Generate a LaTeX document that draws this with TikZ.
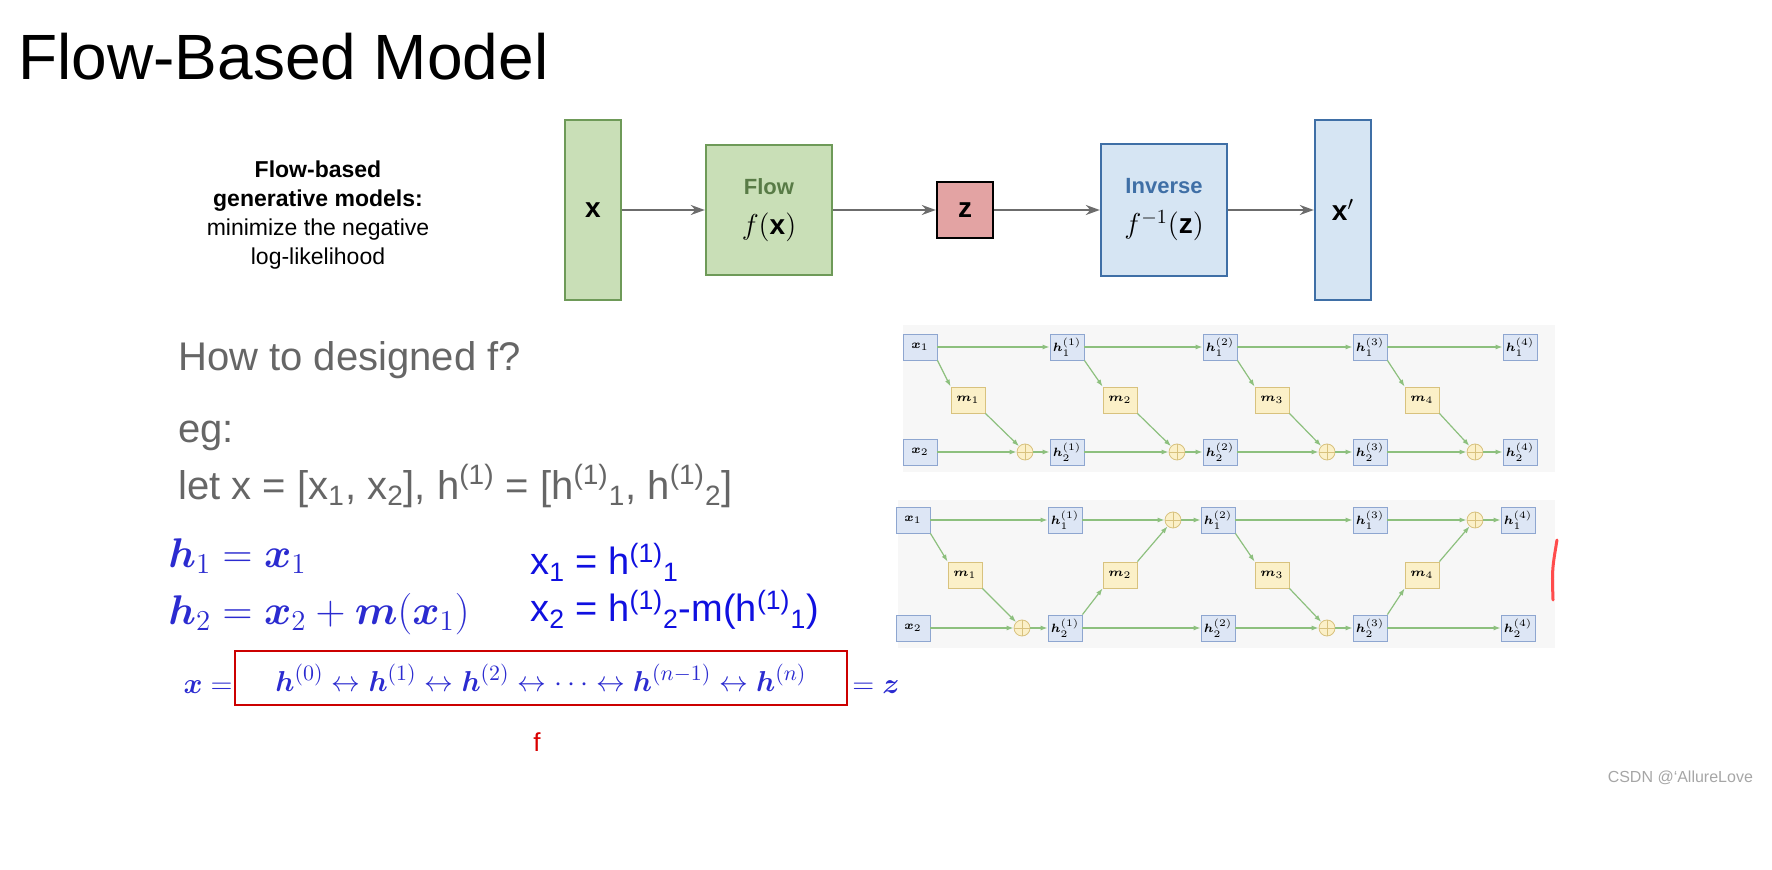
\documentclass[tikz,border=0pt]{standalone}
\usepackage{amsmath,bm}
\usepackage{fontspec}
\setmainfont{Liberation Sans}
\usetikzlibrary{arrows.meta}
\definecolor{gfill}{HTML}{C9DFB7}\definecolor{gdraw}{HTML}{6E9A58}
\definecolor{rfill}{HTML}{E3A3A3}
\definecolor{bfill}{HTML}{D6E5F3}\definecolor{bdraw}{HTML}{3F6FA6}
\definecolor{eqblue}{HTML}{2B2BD0}\definecolor{txtblue}{HTML}{1010E0}
\definecolor{sbfill}{HTML}{DDE6F5}\definecolor{sbdraw}{HTML}{8EA6D0}
\definecolor{yfill}{HTML}{FBF0C8}\definecolor{ydraw}{HTML}{D8C27E}
\definecolor{larr}{HTML}{8DC07E}
\begin{document}
\begin{tikzpicture}[x=0.5pt,y=-0.5pt,
 big/.style={draw,line width=1.2pt,inner sep=0pt},
 arr/.style={-{Stealth[length=7pt,width=5pt]},draw=gray!85!black,line width=0.9pt},
 sb/.style={draw=sbdraw,fill=sbfill,minimum width=17pt,minimum height=13pt,inner sep=0pt,font=\fontsize{6}{6}\selectfont},
 sy/.style={draw=ydraw,fill=yfill,minimum width=17pt,minimum height=13pt,inner sep=0pt,font=\fontsize{6}{6}\selectfont},
 pl/.style={circle,draw=ydraw,fill=yfill,minimum size=8pt,inner sep=0pt,path picture={\draw[ydraw] (path picture bounding box.north)--(path picture bounding box.south) (path picture bounding box.west)--(path picture bounding box.east);}},
 la/.style={-{Latex[length=3.5pt,width=2.5pt]},draw=larr,line width=0.6pt},
 gtxt/.style={text=gray!80!black,font=\fontsize{20}{22}\selectfont,anchor=west,inner sep=0pt}]
\useasboundingbox (0,0) rectangle (1772,870);
\node[anchor=base west,inner sep=0pt,font=\fontsize{32}{33}\selectfont] (title) at (18,80) {Flow-Based Model};
% top panel
\node[align=center,font=\fontsize{11.5}{14.5}\selectfont] (desc) at (318,215) {\textbf{Flow-based}\\\textbf{generative models:}\\minimize the negative\\log-likelihood};
\node[big,draw=gdraw,fill=gfill,minimum width=28pt,minimum height=90pt,font=\fontsize{14}{14}\selectfont] (x) at (593,210) {$\mathbf{x}$};
\node[big,draw=gdraw,fill=gfill,minimum width=63pt,minimum height=65pt,align=center,font=\fontsize{14}{18}\selectfont] (flow) at (769,210) {\textcolor{gdraw!80!black}{\textbf{\fontsize{11}{12}\selectfont Flow}}\\[2pt]$f(\mathbf{x})$};
\node[big,draw=black,fill=rfill,minimum width=28pt,minimum height=28pt,font=\fontsize{14}{14}\selectfont] (z) at (965,210) {$\mathbf{z}$};
\node[big,draw=bdraw,fill=bfill,minimum width=63pt,minimum height=66pt,align=center,font=\fontsize{14}{18}\selectfont] (inv) at (1164,210) {\textcolor{bdraw}{\textbf{\fontsize{11}{12}\selectfont Inverse}}\\[2pt]$f^{-1}(\mathbf{z})$};
\node[big,draw=bdraw,fill=bfill,minimum width=28pt,minimum height=90pt,font=\fontsize{14}{14}\selectfont] (xp) at (1343,210) {$\mathbf{x}'$};
\draw[arr] (x) -- (flow); \draw[arr] (flow) -- (z); \draw[arr] (z) -- (inv); \draw[arr] (inv) -- (xp);
% left text
\node[gtxt] (q) at (178,360) {How to designed f?};
\node[gtxt] (eg) at (178,436) {eg:};
\node[gtxt] (let) at (178,486) {let x = [x$_{\text{1}}$, x$_{\text{2}}$], h$^{\text{(1)}}$ = [h$^{\text{(1)}}$$_{\text{1}}$, h$^{\text{(1)}}$$_{\text{2}}$]};
\node[anchor=west,inner sep=0pt,text=eqblue,font=\fontsize{20}{20}\selectfont] (e1) at (168,556) {$\bm{h}_1 = \bm{x}_1$};
\node[anchor=west,inner sep=0pt,text=eqblue,font=\fontsize{20}{20}\selectfont] (e2) at (168,614) {$\bm{h}_2 = \bm{x}_2 + \bm{m}(\bm{x}_1)$};
\node[anchor=west,inner sep=0pt,text=txtblue,font=\fontsize{19}{19}\selectfont] (r1) at (530,562) {x$_{\text{1}}$ = h$^{\text{(1)}}$$_{\text{1}}$};
\node[anchor=west,inner sep=0pt,text=txtblue,font=\fontsize{19}{19}\selectfont] (r2) at (530,610) {x$_{\text{2}}$ = h$^{\text{(1)}}$$_{\text{2}}$-m(h$^{\text{(1)}}$$_{\text{1}}$)};
\node[anchor=east,inner sep=0pt,text=eqblue,font=\fontsize{15}{15}\selectfont] (xeq) at (233,687) {$\bm{x} =$};
\node[draw=red!80!black,line width=1.2pt,minimum width=306pt,minimum height=27pt,inner sep=0pt,text=eqblue,font=\fontsize{15.5}{15}\selectfont] (chain) at (541,678) {$\bm{h}^{(0)} \leftrightarrow \bm{h}^{(1)} \leftrightarrow \bm{h}^{(2)} \leftrightarrow \cdots \leftrightarrow \bm{h}^{(n-1)} \leftrightarrow \bm{h}^{(n)}$};
\node[anchor=west,inner sep=0pt,text=eqblue,font=\fontsize{15}{15}\selectfont] (zeq) at (852,687) {$= \bm{z}$};
\node[text=red!85!black,font=\fontsize{13}{13}\selectfont] (f) at (537,742) {f};
% network 1
\fill[black!3] (903,325) rectangle (1555,472);
\node[sb] (a0) at (920,347) {$\bm{x}_1$};
\node[sb] (b0) at (920,452) {$\bm{x}_2$};
\foreach \i/\cx/\mx/\px in {1/1067/968/1025,2/1220/1120/1177,3/1370/1272/1327,4/1520/1422/1475}{
 \node[sb] (a\i) at (\cx,347) {$\bm{h}_1^{(\i)}$};
 \node[sb] (b\i) at (\cx,452) {$\bm{h}_2^{(\i)}$};
 \node[sy] (m\i) at (\mx,400) {$\bm{m}_\i$};
 \node[pl] (p\i) at (\px,452) {};
}
\foreach \i/\j in {0/1,1/2,2/3,3/4}{
 \draw[la] (a\i) -- (a\j);
 \draw[la] (a\i.south east) -- (m\j.north west);
 \draw[la] (m\j.south east) -- (p\j);
 \draw[la] (b\i) -- (p\j);
 \draw[la] (p\j) -- (b\j);
}
% network 2
\fill[black!3] (898,500) rectangle (1555,648);
\node[sb] (c0) at (913,520) {$\bm{x}_1$};
\node[sb] (d0) at (913,628) {$\bm{x}_2$};
\foreach \i/\cx in {1/1065,2/1218,3/1370,4/1518}{
 \node[sb] (c\i) at (\cx,520) {$\bm{h}_1^{(\i)}$};
 \node[sb] (d\i) at (\cx,628) {$\bm{h}_2^{(\i)}$};
}
\node[sy] (n1) at (965,575) {$\bm{m}_1$};
\node[sy] (n2) at (1120,575) {$\bm{m}_2$};
\node[sy] (n3) at (1272,575) {$\bm{m}_3$};
\node[sy] (n4) at (1422,575) {$\bm{m}_4$};
\node[pl] (q1) at (1022,628) {};
\node[pl] (q2) at (1173,520) {};
\node[pl] (q3) at (1327,628) {};
\node[pl] (q4) at (1475,520) {};
\draw[la] (c0) -- (c1); \draw[la] (c0.south east) -- (n1.north west); \draw[la] (n1.south east) -- (q1);
\draw[la] (d0) -- (q1); \draw[la] (q1) -- (d1);
\draw[la] (d1) -- (d2); \draw[la] (d1.north east) -- (n2.south west); \draw[la] (n2.north east) -- (q2);
\draw[la] (c1) -- (q2); \draw[la] (q2) -- (c2);
\draw[la] (c2) -- (c3); \draw[la] (c2.south east) -- (n3.north west); \draw[la] (n3.south east) -- (q3);
\draw[la] (d2) -- (q3); \draw[la] (q3) -- (d3);
\draw[la] (d3) -- (d4); \draw[la] (d3.north east) -- (n4.south west); \draw[la] (n4.north east) -- (q4);
\draw[la] (c3) -- (q4); \draw[la] (q4) -- (c4);
\draw[red!70,line width=1.5pt,line cap=round] (1557,540) .. controls (1552,570) .. (1553,600);
\node[anchor=east,text=gray!70,font=\fontsize{8}{8}\selectfont] (wm) at (1760,778) {CSDN @`AllureLove};
\end{tikzpicture}
\end{document}
